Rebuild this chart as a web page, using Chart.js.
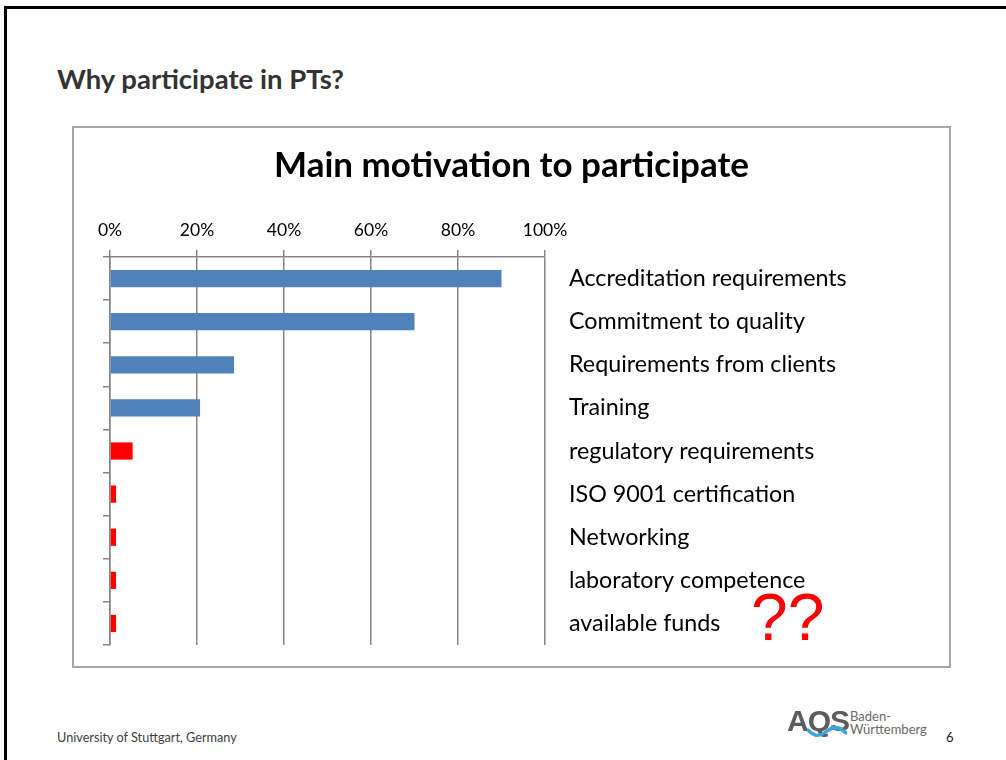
<!DOCTYPE html>
<html>
<head>
<meta charset="utf-8">
<script src="https://cdn.jsdelivr.net/npm/chart.js@4.4.1/dist/chart.umd.min.js"></script>
<style>
  html, body { margin: 0; padding: 0; background: #fff; }
  body { width: 1006px; height: 760px; position: relative; overflow: hidden; font-family: Lato, "Open Sans", sans-serif; }
  #slide { position: absolute; left: 4px; top: 6px; width: 1100px; height: 900px; border: 3px solid #000; box-sizing: border-box; }
  #heading { position: absolute; left: 57px; top: 62px; font-size: 27.5px; font-weight: bold; color: #333; white-space: nowrap; line-height: 1.2; }
  #frame { position: absolute; left: 72px; top: 126px; width: 879px; height: 542px; border: 2px solid #a6a6a6; box-sizing: border-box; background: #fff; }
  #frame canvas { position: absolute; left: 0; top: 0; }
  #footer { position: absolute; left: 57px; top: 729px; font-size: 12.7px; color: #404040; white-space: nowrap; }
  #page { position: absolute; left: 946px; top: 729px; font-size: 13px; color: #202020; }
  #qq { position: absolute; left: 751px; top: 584px; font-family: "Liberation Sans", Arial, sans-serif; font-size: 66px; color: #ff0000; line-height: 1; white-space: nowrap; }
  #logo { position: absolute; left: 787px; top: 706px; width: 150px; height: 40px; }
  #logo .aqs { position: absolute; left: 0; top: 0; font-family: "Liberation Sans", Arial, sans-serif; font-weight: bold; font-size: 30px; color: #5b5c5e; letter-spacing: -1px; line-height: 1; }
  #logo .bw { position: absolute; left: 63px; top: 4px; font-size: 13px; line-height: 13px; color: #6a6a6a; }
  #logo svg { position: absolute; left: 20px; top: 18px; }
</style>
</head>
<body>
<div id="slide"></div>
<div id="heading">Why participate in PTs?</div>
<div id="frame"><canvas id="c" width="875" height="538"></canvas></div>
<div id="qq">??</div>
<div id="footer">University of Stuttgart, Germany</div>
<div id="logo">
  <span class="aqs">AQS</span>
  <svg width="40" height="14" viewBox="0 0 40 14"><path d="M1 6 C 8 14, 14 12, 20 7 S 32 2, 39 9" stroke="#3aa6dd" stroke-width="3.5" fill="none" stroke-linecap="round"/></svg>
  <div class="bw">Baden-<br>Württemberg</div>
</div>
<div id="page">6</div>
<script>
const categories = [
  "Accreditation requirements",
  "Commitment to quality",
  "Requirements from clients",
  "Training",
  "regulatory requirements",
  "ISO 9001 certification",
  "Networking",
  "laboratory competence",
  "available funds"
];
const shares = [90, 70, 28.5, 20.7, 5.2, 1.4, 1.4, 1.4, 1.4];
const tickValues = [0, 20, 40, 60, 80, 100];
const chartTitle = "Main motivation to participate";
const barColors = ["#4f81bd", "#4f81bd", "#4f81bd", "#4f81bd", "#ff0000", "#ff0000", "#ff0000", "#ff0000", "#ff0000"];

const axisGray = "#868686";
const fontFamily = "Lato, 'Open Sans', sans-serif";

new Chart(document.getElementById("c"), {
  type: "bar",
  data: {
    labels: categories,
    datasets: [{
      data: shares,
      backgroundColor: barColors,
      borderWidth: 0,
      categoryPercentage: 1,
      barPercentage: 0.4,
      yAxisID: "y",
      xAxisID: "x"
    }]
  },
  options: {
    indexAxis: "y",
    responsive: false,
    animation: false,
    devicePixelRatio: 1,
    layout: { padding: { left: 0, right: 0, top: 0, bottom: 21 } },
    plugins: {
      legend: { display: false },
      tooltip: { enabled: false },
      title: {
        display: true,
        text: chartTitle,
        color: "#000",
        font: { family: fontFamily, size: 35, weight: "bold", lineHeight: 1.2 },
        padding: { top: 17, bottom: 18.4 }
      }
    },
    scales: {
      x: {
        type: "linear",
        position: "top",
        min: tickValues[0],
        max: tickValues[tickValues.length - 1],
        afterBuildTicks: (s) => { s.ticks = tickValues.map(v => ({ value: v })); },
        ticks: {
          callback: (v) => v + "%",
          color: "#000",
          font: { family: fontFamily, size: 17.5 },
          padding: 9
        },
        grid: { color: axisGray, lineWidth: 1.5, tickLength: 7, drawTicks: true },
        border: { display: true, color: axisGray, width: 1.5 },
        afterFit: (s) => { s.height = 51.6; }
      },
      y: {
        type: "category",
        position: "left",
        offset: true,
        grid: { display: true, drawOnChartArea: false, drawTicks: true, tickLength: 7, color: axisGray, lineWidth: 1.5, offset: true },
        border: { display: true, color: axisGray, width: 1.5 },
        ticks: { display: false },
        afterFit: (s) => { s.width = 36; s.paddingTop = 0; s.paddingBottom = 0; }
      },
      y2: {
        type: "category",
        position: "right",
        labels: categories,
        offset: true,
        grid: { display: false, drawTicks: false, drawOnChartArea: false },
        border: { display: false },
        ticks: { color: "#000", font: { family: fontFamily, size: 23.3 }, padding: 24 },
        afterFit: (s) => { s.width = 404; s.paddingTop = 0; s.paddingBottom = 0; }
      }
    }
  }
});
</script>
</body>
</html>
